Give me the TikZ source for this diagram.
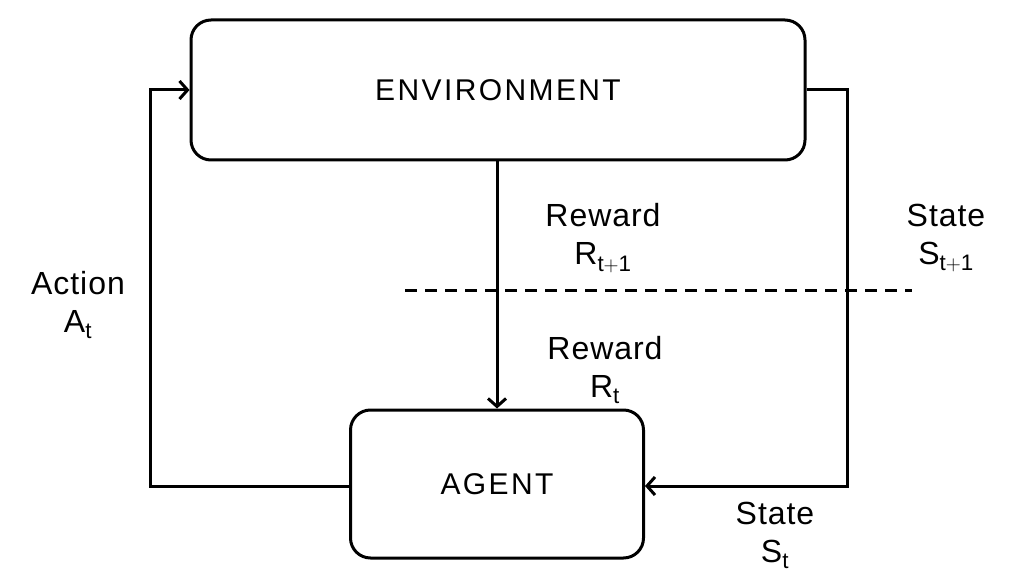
\documentclass[tikz,border=0pt]{standalone}
\usepackage{fontspec}
\setmainfont{Liberation Sans}
\usetikzlibrary{arrows.meta}
\begin{document}
\begin{tikzpicture}[x=1pt,y=-1pt,
  box/.style={draw,line width=3pt,rounded corners=20pt,inner sep=0pt},
  conn/.style={line width=3pt},
  arr/.style={conn,-{Straight Barb[length=8pt,width=18pt,line width=3pt]}},
  lbl/.style={font=\fontsize{32}{38}\selectfont\addfontfeatures{LetterSpace=3},align=center,inner sep=0pt},
  title/.style={font=\fontsize{30}{34}\selectfont\addfontfeatures{LetterSpace=8}}]
\useasboundingbox (0,0) rectangle (1027,588);
\node[box,minimum width=614pt,minimum height=140pt] (env) at (498,90) {};
\node[title] at (env.center) {ENVIRONMENT};
\node[box,minimum width=293pt,minimum height=148pt] (agent) at (497,484) {};
\node[title] at (agent.center) {AGENT};
\coordinate (r1) at (847,90);
\coordinate (r2) at (847,486);
\coordinate (l1) at (150,486);
\coordinate (l2) at (150,90);
\draw[arr] (env.south -| 497,0) -- (agent.north -| 497,0);
\draw[arr] (env.east |- r1) -- (r1) -- (r2) -- (agent.east |- r2);
\draw[arr] (agent.west |- l1) -- (l1) -- (l2) -- (env.west |- l2);
\coordinate (d1) at (405,290);
\coordinate (d2) at (912,290);
\draw[conn,dash pattern=on 12pt off 8pt] (d1) -- (d2);
\node[lbl] (rw1) at (603,238) {Reward\\R$_{\mathrm{t+1}}$};
\node[lbl] (st1) at (946,238) {State\\S$_{\mathrm{t+1}}$};
\node[lbl] (act) at (78,305) {Action\\A$_{\mathrm{t}}$};
\node[lbl] (rw2) at (605,370) {Reward\\R$_{\mathrm{t}}$};
\node[lbl] (st2) at (775,535) {State\\S$_{\mathrm{t}}$};
\end{tikzpicture}
\end{document}
